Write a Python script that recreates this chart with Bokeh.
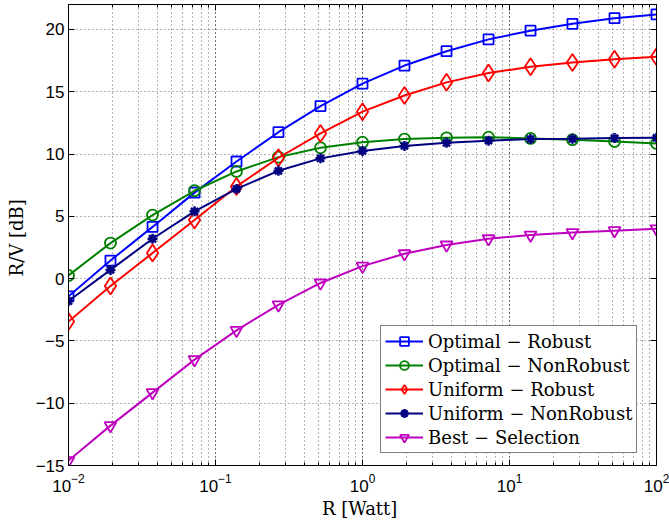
from bokeh.plotting import figure
from bokeh.models import (LogAxis, LinearAxis, FixedTicker, LogTicker, Legend,
                          LegendItem, Range1d, CustomJSTickFormatter)
from bokeh.embed import file_html
from bokeh.resources import INLINE

# ---- data ----
power_w = [0.01, 0.0193, 0.0373, 0.0720, 0.139, 0.268, 0.518, 1.0,
           1.93, 3.73, 7.20, 13.9, 26.8, 51.8, 100.0]
optimal_robust = [-1.42, 1.45, 4.15, 6.9, 9.4, 11.75, 13.85, 15.65,
                  17.1, 18.25, 19.2, 19.9, 20.45, 20.9, 21.2]
optimal_nonrobust = [0.25, 2.85, 5.1, 7.05, 8.6, 9.75, 10.5, 10.95,
                     11.2, 11.3, 11.35, 11.25, 11.15, 11.0, 10.85]
uniform_robust = [-3.45, -0.6, 2.05, 4.7, 7.4, 9.7, 11.65, 13.4,
                  14.7, 15.75, 16.5, 17.0, 17.35, 17.6, 17.8]
uniform_nonrobust = [-1.8, 0.7, 3.2, 5.4, 7.2, 8.65, 9.65, 10.25,
                     10.65, 10.9, 11.07, 11.2, 11.22, 11.28, 11.3]
best_selection = [-14.6, -11.8, -9.15, -6.5, -4.15, -2.1, -0.35, 1.0,
                  2.0, 2.7, 3.2, 3.5, 3.7, 3.85, 4.0]

series_names = ["Optimal \u2212 Robust", "Optimal \u2212 NonRobust",
                "Uniform \u2212 Robust", "Uniform \u2212 NonRobust",
                "Best \u2212 Selection"]
y_ticks = [-15, -10, -5, 0, 5, 10, 15, 20]
x_label = "R  [Watt]"
y_label = "R/V  [dB]"

W, H = 669, 522
p = figure(width=W, height=H, x_axis_type="log",
           x_range=Range1d(0.01, 100), y_range=Range1d(-15, 22),
           output_backend="svg", toolbar_location=None,
           min_border_left=68, min_border_right=13,
           min_border_top=0, min_border_bottom=57)
p.background_fill_color = "white"
p.border_fill_color = "white"
p.outline_line_color = "black"
p.outline_line_width = 1

tick_font = "Liberation Sans"
for ax in [p.xaxis[0], p.yaxis[0]]:
    ax.major_tick_in = 6
    ax.major_tick_out = 0
    ax.minor_tick_in = 3
    ax.minor_tick_out = 0
    ax.axis_line_color = "black"
    ax.major_tick_line_color = "black"
    ax.minor_tick_line_color = "black"
    ax.major_label_text_font = tick_font
    ax.major_label_text_font_size = "17px"
    ax.major_label_text_color = "black"
    ax.axis_label_text_font = "DejaVu Serif"
    ax.axis_label_text_font_size = "18px"
    ax.axis_label_text_font_style = "normal"
    ax.axis_label_text_color = "black"
p.xaxis[0].axis_label = x_label
p.yaxis[0].axis_label = y_label
p.yaxis[0].ticker = FixedTicker(ticks=y_ticks)
p.yaxis[0].minor_tick_in = 0
p.yaxis[0].major_label_standoff = 4
p.yaxis[0].axis_label_standoff = 6
p.xaxis[0].ticker = LogTicker(num_minor_ticks=10)
p.xaxis[0].major_label_standoff = 8
p.xaxis[0].axis_label_standoff = 3

# mirrored axes (ticks only)
blank = CustomJSTickFormatter(code="return ' ';")
top_ax = LogAxis(ticker=LogTicker(num_minor_ticks=10))
right_ax = LinearAxis(ticker=FixedTicker(ticks=y_ticks))
for ax in [top_ax, right_ax]:
    ax.formatter = blank
    ax.major_tick_in = 6
    ax.major_tick_out = 0
    ax.minor_tick_in = 3
    ax.minor_tick_out = 0
    ax.major_label_text_font_size = "1px"
    ax.major_label_standoff = 0
    ax.axis_line_color = "black"
right_ax.minor_tick_in = 0
p.add_layout(top_ax, "above")
p.add_layout(right_ax, "right")

# grid
for g in [p.xgrid[0], p.ygrid[0]]:
    g.grid_line_color = "#444444"
    g.grid_line_dash = "1 3"
    g.grid_line_alpha = 0.8
p.xgrid[0].minor_grid_line_color = "#444444"
p.xgrid[0].minor_grid_line_dash = "1 3"
p.xgrid[0].minor_grid_line_alpha = 0.8
p.ygrid[0].ticker = FixedTicker(ticks=y_ticks)

styles = [
    (optimal_robust, "#0000FF", "square", 10, 1.8),
    (optimal_nonrobust, "#008000", "circle", 11, 1.8),
    (uniform_robust, "#FF0000", "diamond", 17, 1.8),
    (uniform_nonrobust, "#000080", "asterisk", 10, 2.5),
    (best_selection, "#BF00BF", "inverted_triangle", 12, 1.8),
]
items = []
for (vals, color, marker, size, mlw), name in zip(styles, series_names):
    l = p.line(power_w, vals, line_color=color, line_width=2)
    s = p.scatter(power_w, vals, marker=marker, size=size, line_color=color,
                  fill_color=None, line_width=mlw)
    items.append(LegendItem(label=name, renderers=[l, s]))

legend = Legend(items=items, location=(312, 12))
legend.label_text_font = "DejaVu Serif"
legend.label_text_font_size = "18px"
legend.label_text_color = "black"
legend.glyph_width = 38
legend.glyph_height = 22
legend.label_height = 22
legend.spacing = 2
legend.padding = 4
legend.margin = 0
legend.label_standoff = 5
legend.border_line_color = "black"
legend.border_line_width = 1
legend.background_fill_alpha = 1
p.add_layout(legend)

open("out.html", "w").write(file_html(p, INLINE))
